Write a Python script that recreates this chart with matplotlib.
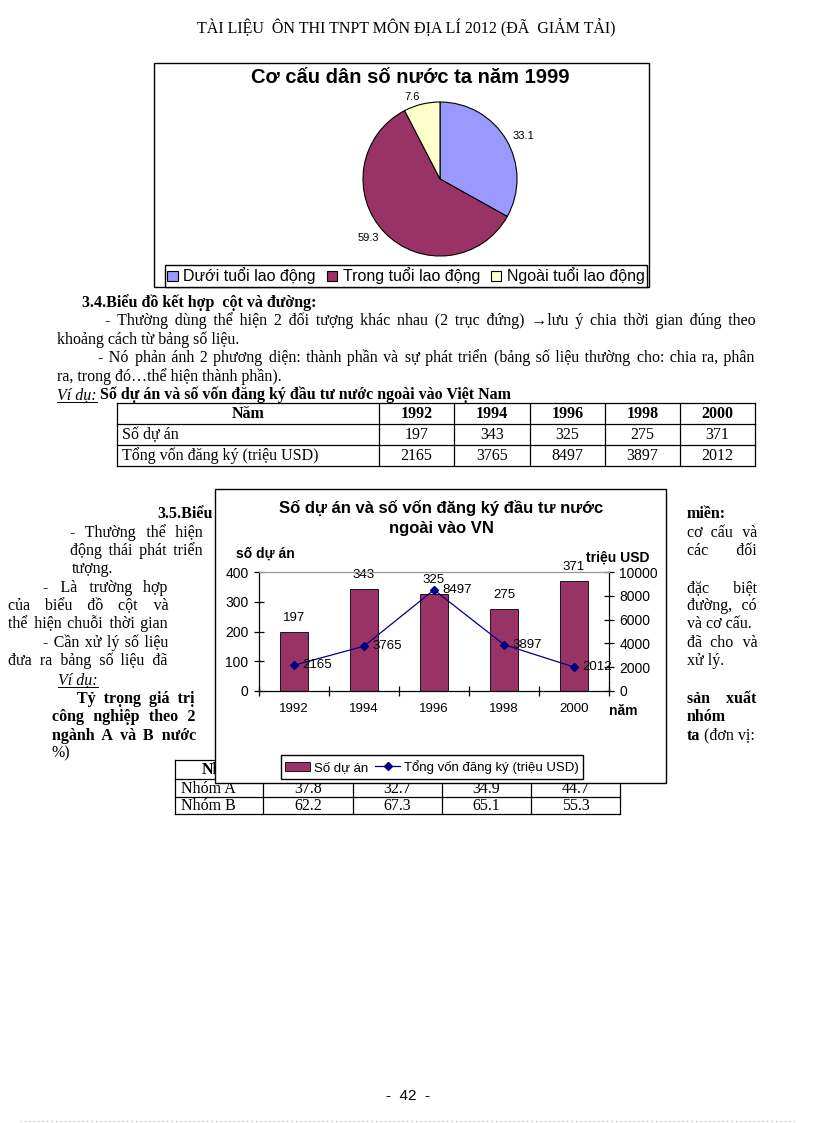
import matplotlib
matplotlib.use('Agg')
import matplotlib.pyplot as plt
from matplotlib.patches import Rectangle, Patch
from matplotlib.lines import Line2D
import numpy as np

W, H = 816, 1123
SERIF = ['Liberation Serif', 'DejaVu Serif']
SANS = ['Liberation Sans', 'DejaVu Sans']
plt.rcParams['font.family'] = SANS

# pie chart data
pie_labels = ['Dưới tuổi lao động', 'Trong tuổi lao động', 'Ngoài tuổi lao động']
pie_values = [33.1, 59.3, 7.6]
pie_colors = ['#9999FF', '#993366', '#FFFFCC']

# combo chart / table data
years = ['1992', '1994', '1996', '1998', '2000']
projects = [197, 343, 325, 275, 371]
capital = [2165, 3765, 8497, 3897, 2012]

# bottom table data
group_names = ['Nhóm A', 'Nhóm B']
group_a = [37.8, 32.7, 34.9, 44.7]
group_b = [62.2, 67.3, 65.1, 55.3]

fig = plt.figure(figsize=(8.16, 11.23), dpi=100)
renderer = fig.canvas.get_renderer()


def fx(x):
    return x / W


def fy(y):
    return 1 - y / H


def txt(x, y, s, size=11.5, family=SERIF, **kw):
    # y is the visual middle of a text line; body text sits on its baseline
    if 'va' not in kw:
        kw['va'] = 'baseline'
        y = y + size * 0.42
    return fig.text(fx(x), fy(y), s, fontsize=size, family=family, **kw)


def width(t):
    return t.get_window_extent(renderer).width


def glyph_width(t, ch):
    t.set_text('x' + ch * 10 + 'x')
    w = width(t)
    t.set_text('xx')
    return (w - width(t)) / 10


def justify(s, x0, x1, y, **kw):
    # one text object per line (keeps the baseline steady), gaps padded
    # with normal spaces plus hair spaces for the remainder
    words = s.split()
    t = txt(x0, y, '', **kw)
    sp = glyph_width(t, ' ')
    hs = glyph_width(t, '\u200a')
    t.set_text(' '.join(words))
    extra = x1 - x0 - width(t)
    n = len(words) - 1
    out = words[0]
    done = 0.0
    for i in range(n):
        e = max((i + 1) * extra / n - done, 0)
        k = int(e // sp)
        m = int(round((e - k * sp) / hs)) if hs > 0.5 else 0
        done += k * sp + m * hs
        out += ' ' * (1 + k) + '\u200a' * m + words[i + 1]
    t.set_text(out)
    return t


def line(x0, y0, x1, y1, **kw):
    kw.setdefault('color', 'black')
    kw.setdefault('lw', 0.9)
    fig.add_artist(Line2D([fx(x0), fx(x1)], [fy(y0), fy(y1)], **kw))


def rect(x0, y0, x1, y1, **kw):
    fig.add_artist(Rectangle((fx(x0), fy(y1)), (x1 - x0) / W, (y1 - y0) / H, **kw))


def underline(t, y):
    bb = t.get_window_extent(renderer)
    line(bb.x0, y, bb.x1, y, lw=0.7)


# header / footer
txt(406, 29, 'TÀI LIỆU  ÔN THI TNPT MÔN ĐỊA LÍ 2012 (ĐÃ  GIẢM TẢI)', ha='center')
txt(408, 1095, '-  42  -', size=11, family=SANS, ha='center')
line(20, 1121, 796, 1121, color='#aaaaaa', lw=0.8, linestyle=(0, (1, 3)))

# ---- pie chart ----
rect(154, 63, 649, 287, fill=False, edgecolor='black', lw=1)
txt(410, 77, 'Cơ cấu dân số nước ta năm 1999', size=14.5, family=SANS, weight='bold', ha='center')
pax = fig.add_axes([fx(363), fy(256), 154 / W, 154 / H])
pax.pie(pie_values, labels=[str(v) for v in pie_values], colors=pie_colors,
        startangle=90, counterclock=False, labeldistance=1.1,
        wedgeprops=dict(edgecolor='black', linewidth=0.8),
        textprops=dict(fontsize=8, family=SANS))
pax.set_xlim(-1, 1)
pax.set_ylim(-1, 1)
fig.legend(handles=[Patch(facecolor=c, edgecolor='black', lw=0.8) for c in pie_colors],
           labels=pie_labels, ncol=3, loc='center', mode='expand',
           bbox_to_anchor=(fx(165), fy(288), 482 / W, 24 / H),
           fontsize=11.5, handlelength=0.65, handleheight=0.65, handletextpad=0.35,
           columnspacing=0.6, borderpad=0.15, borderaxespad=0, fancybox=False,
           edgecolor='black', framealpha=1)

# ---- section 3.4 ----
txt(82, 302, '3.4.Biểu đồ kết hợp  cột và đường:', weight='bold')
justify('- Thường  dùng  thể  hiện  2  đối  tượng  khác  nhau  (2  trục  đứng)  →lưu  ý  chia  thời  gian  đúng  theo',
        105, 755, 320)
txt(57, 339, 'khoảng cách từ bảng số liệu.')
justify('- Nó phản ánh 2 phương diện: thành phần và sự phát triển (bảng số liệu thường cho: chia ra, phân',
        98, 755, 357)
txt(57, 376, 'ra, trong đó…thể hiện thành phần).')
t = txt(57, 394, 'Ví dụ:', style='italic')
underline(t, 402)
txt(57 + width(t) + 3, 394, 'Số dự án và số vốn đăng ký đầu tư nước ngoài vào Việt Nam', weight='bold')

# table 1
t1_cols = [117, 379, 454, 530, 605, 680, 755]
t1_rows = [403, 424, 445, 466]
for y in t1_rows:
    line(t1_cols[0], y, t1_cols[-1], y)
for x in t1_cols:
    line(x, t1_rows[0], x, t1_rows[-1])
row_y = [(t1_rows[i] + t1_rows[i + 1]) / 2 for i in range(3)]
txt((t1_cols[0] + t1_cols[1]) / 2, row_y[0], 'Năm', weight='bold', ha='center')
txt(122, row_y[1], 'Số dự án')
txt(122, row_y[2], 'Tổng vốn đăng ký (triệu USD)')
for i in range(5):
    cx = (t1_cols[i + 1] + t1_cols[i + 2]) / 2
    txt(cx, row_y[0], years[i], weight='bold', ha='center')
    txt(cx, row_y[1], str(projects[i]), ha='center')
    txt(cx, row_y[2], str(capital[i]), ha='center')

# ---- section 3.5 (partly hidden by chart) ----
txt(157, 513, '3.5.Biểu', weight='bold')
justify('- Thường  thể  hiện', 70, 203, 532)
justify('động thái phát triển', 70, 203, 550)
txt(72, 568, 'tượng.')
justify('- Là  trường  hợp', 43, 168, 587)
justify('của  biểu  đồ  cột  và', 8, 168, 605)
justify('thể hiện chuỗi thời gian', 8, 168, 623)
justify('- Cần xử lý số liệu', 43, 168, 642)
justify('đưa ra bảng số liệu đã', 8, 168, 660)
t = txt(58, 679, 'Ví dụ:', style='italic')
underline(t, 687)
justify('Tỷ trọng giá trị', 77, 195, 698, weight='bold')
justify('công nghiệp theo 2', 52, 195, 716, weight='bold')
justify('ngành A và B nước', 52, 195, 735, weight='bold')
txt(52, 753, '%)')

txt(687, 513, 'miền:', weight='bold')
justify('cơ  cấu  và', 687, 757, 532)
justify('các  đối', 687, 757, 550)
justify('đặc  biệt', 687, 757, 587)
justify('đường,  có', 687, 757, 605)
txt(687, 623, 'và cơ cấu.')
justify('đã  cho  và', 687, 757, 642)
txt(687, 660, 'xử lý.')
justify('sản  xuất', 687, 757, 698, weight='bold')
txt(687, 716, 'nhóm', weight='bold')
t = txt(687, 735, 'ta', weight='bold')
txt(687 + width(t), 735, ' (đơn vị:')

# bottom table
t2_cols = [175, 263, 353, 442, 531, 620]
t2_rows = [760, 779, 797, 814]
for y in t2_rows:
    line(t2_cols[0], y, t2_cols[-1], y, zorder=2)
for x in t2_cols:
    line(x, t2_rows[0], x, t2_rows[-1], zorder=2)
txt(202, 769, 'Nhóm', weight='bold')
for r, (name, vals) in enumerate(zip(group_names, [group_a, group_b])):
    y = (t2_rows[r + 1] + t2_rows[r + 2]) / 2
    txt(181, y, name)
    for i, v in enumerate(vals):
        txt((t2_cols[i + 1] + t2_cols[i + 2]) / 2, y, f'{v:.1f}', ha='center')

# ---- combo chart (picture on top of the text) ----
rect(215, 489, 666, 783, facecolor='white', edgecolor='black', lw=1, zorder=4)
ax = fig.add_axes([fx(259), fy(691), 350 / W, 119 / H])
ax.set_zorder(5)
ax.patch.set_visible(False)
x = np.arange(len(years))
bars = ax.bar(x, projects, width=0.39, color='#993366', edgecolor='black', lw=0.6)
ax.set_xlim(-0.5, len(years) - 0.5)
ax.set_ylim(0, 400)
ax.set_yticks(range(0, 401, 100))
ax.set_xticks(x)
ax.set_xticklabels(years)
ax.set_xticks(np.arange(-0.5, len(years), 1), minor=True)
ax.tick_params(axis='x', which='major', length=0, pad=9, labelsize=9.5)
ax.tick_params(axis='x', which='minor', direction='inout', length=7, width=0.9)
ax.tick_params(axis='y', direction='inout', length=7, width=0.9, labelsize=10, pad=4)
for xi, v in zip(x, projects):
    ax.annotate(str(v), (xi, v), xytext=(0, 14), textcoords='offset pixels',
                ha='center', va='center', fontsize=9.5)

ax2 = ax.twinx()
ax2.set_zorder(6)
ln, = ax2.plot(x, capital, color='#000080', marker='D', ms=4.5, lw=0.9)
ax2.set_ylim(0, 10000)
ax2.set_yticks(range(0, 10001, 2000))
ax2.tick_params(axis='y', direction='inout', length=7, width=0.9, labelsize=10, pad=4)
for xi, c in zip(x, capital):
    ax2.annotate(str(c), (xi, c), xytext=(8, 0), textcoords='offset pixels',
                 ha='left', va='center', fontsize=9.5)
for a in (ax, ax2):
    a.spines['top'].set_color('#999999')
    a.spines['top'].set_linewidth(0.8)

txt(441, 508, 'Số dự án và số vốn đăng ký đầu tư nước', size=12, family=SANS,
    weight='bold', ha='center', va='center', zorder=7)
txt(441, 529, 'ngoài vào VN', size=12, family=SANS, weight='bold', ha='center',
    va='center', zorder=7)
txt(236, 554, 'số dự án', size=10, family=SANS, weight='bold', va='center', zorder=7)
txt(586, 558, 'triệu USD', size=10, family=SANS, weight='bold', va='center', zorder=7)
txt(609, 711, 'năm', size=10, family=SANS, weight='bold', va='center', zorder=7)

ax2.legend([bars, ln], ['Số dự án', 'Tổng vốn đăng ký (triệu USD)'], ncol=2,
           loc='center', bbox_to_anchor=(fx(432), fy(767)),
           bbox_transform=fig.transFigure, fontsize=9.5,
           handlelength=1.9, handletextpad=0.3, columnspacing=0.5, borderpad=0.35,
           fancybox=False, edgecolor='black', framealpha=1)

fig.savefig('out.png', dpi=100)
